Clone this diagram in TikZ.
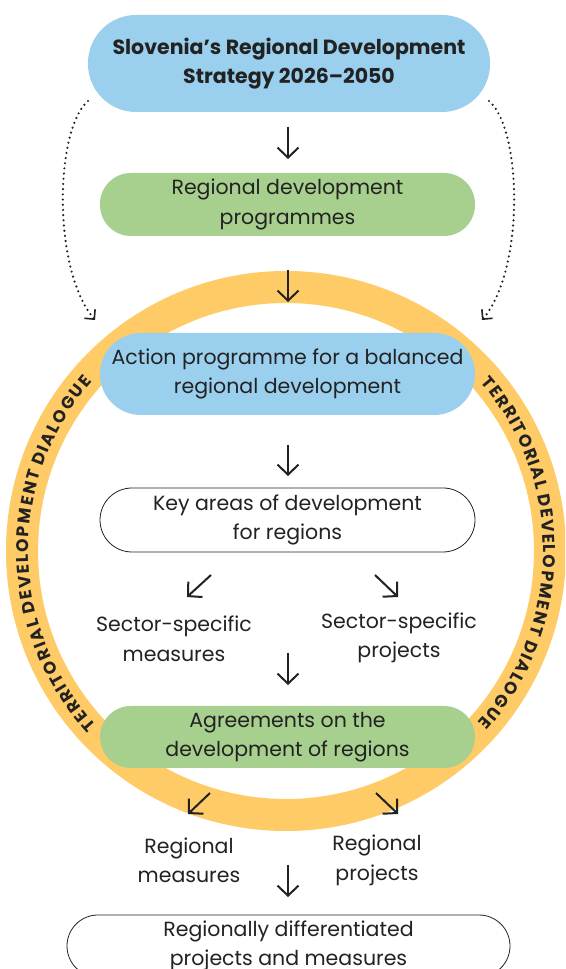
\documentclass[tikz,border=0pt]{standalone}
\usepackage{fontspec}
\setmainfont{Poppins}
\usetikzlibrary{arrows.meta,decorations.text}
\definecolor{ringY}{HTML}{FECB66}
\definecolor{boxB}{HTML}{9BCFEE}
\definecolor{boxG}{HTML}{A7D08E}
\definecolor{ink}{HTML}{222222}
\begin{document}
\begin{tikzpicture}[x=1pt,y=1pt,
  lab/.style={font=\fontsize{20.5}{29.5}\selectfont, text=ink, align=center},
  pill/.style={lab, rectangle, inner sep=0pt, minimum width=375pt},
  arr/.style={draw=ink, line width=2pt, -{Straight Barb[length=10pt,width=21pt]}},
  dotarr/.style={draw=ink, line width=2.4pt, dash pattern=on 0pt off 5.2pt, line cap=round,
    -{Straight Barb[length=7pt,width=14pt,line width=1.6pt]}},
  ringtext/.style={decorate, decoration={text effects along path,
    text={TERRITORIAL DEVELOPMENT DIALOGUE},
    text effects/.cd, text along path, fit text to path,
    characters={font=\bfseries\fontsize{17}{17}\selectfont, text=ink}}}]
\useasboundingbox (0,0) rectangle (565,969);
\clip (0,0) rectangle (565,969);
\fill[white] (0,0) rectangle (565,969);
% ring
\coordinate (rc) at (286,418);
\draw[ringY, line width=32pt] (rc) circle[radius=264];
\path[ringtext] (rc) ++(222.6:257.5) arc[start angle=222.6, end angle=138.9, radius=257.5];
\path[ringtext] (rc) ++(40.8:257.5) arc[start angle=40.8, end angle=-41.8, radius=257.5];
% boxes
\node[pill, fill=boxB, minimum width=402pt, minimum height=97pt, rounded corners=48pt,
  font=\bfseries\fontsize{20.5}{29.5}\selectfont] (n1) at (289,905.5)
  {Slovenia’s Regional Development\\Strategy 2026–2050};
\node[pill, fill=boxG, minimum height=63pt, rounded corners=31pt] (n2) at (287.5,764.5)
  {Regional development\\programmes};
\node[pill, fill=boxB, minimum height=82pt, rounded corners=41pt] (n3) at (287.5,595)
  {Action programme for a balanced\\regional development};
\node[pill, fill=white, draw=ink, line width=0.8pt, minimum height=64pt, rounded corners=32pt] (n4) at (287.5,449)
  {Key areas of development\\for regions};
\node[pill, fill=boxG, minimum height=62pt, rounded corners=31pt] (n5) at (287.5,232)
  {Agreements on the\\development of regions};
\node[pill, fill=white, draw=ink, line width=0.8pt, minimum width=443pt, minimum height=62pt, rounded corners=31pt] (n6) at (288.5,23)
  {Regionally differentiated\\projects and measures};
% labels
\node[lab] (sm) at (174,330) {Sector-specific\\measures};
\node[lab] (sp) at (399,331) {Sector-specific\\projects};
\node[lab] (rm) at (189,108.5) {Regional\\measures};
\node[lab] (rp) at (377,108.5) {Regional\\projects};
% arrow coordinates
\coordinate (a1s) at (288,842); \coordinate (a1e) at (288,810);
\coordinate (a2s) at (288,699); \coordinate (a2e) at (288,667);
\coordinate (a3s) at (288,524); \coordinate (a3e) at (288,493);
\coordinate (a4s) at (288,316); \coordinate (a4e) at (288,284);
\coordinate (a5s) at (288,104); \coordinate (a5e) at (288,72);
\coordinate (d1s) at (211,394); \coordinate (d1e) at (187,372);
\coordinate (d2s) at (375,394); \coordinate (d2e) at (398,372);
\coordinate (d3s) at (210,176); \coordinate (d3e) at (188,155);
\coordinate (d4s) at (376,176); \coordinate (d4e) at (398,155);
\foreach \a in {a1,a2,a3,a4,a5,d1,d2,d3,d4} \draw[arr] (\a s) -- (\a e);
% dotted curved arrows
\coordinate (ls) at (88,868); \coordinate (le) at (95,649);
\coordinate (rs) at (489,868); \coordinate (re) at (482,649);
\draw[dotarr] (ls) .. controls (55,840) and (52,700) .. (le);
\draw[dotarr] (rs) .. controls (522,840) and (525,700) .. (re);
\end{tikzpicture}
\end{document}
